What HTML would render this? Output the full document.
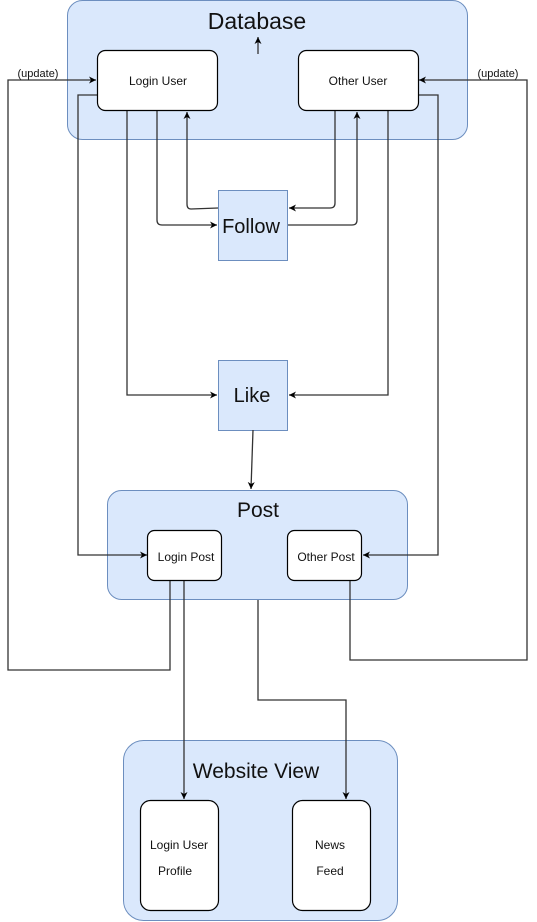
<!DOCTYPE html>
<html><head><meta charset="utf-8"><style>
html,body{margin:0;padding:0;background:#fff;width:537px;height:922px;overflow:hidden}
text{font-family:"Liberation Sans",Arial,sans-serif;fill:#111}
</style></head><body>
<svg width="537" height="922" viewBox="0 0 537 922" xmlns="http://www.w3.org/2000/svg">
<defs>
<marker id="a" markerWidth="8" markerHeight="8" refX="7" refY="4" orient="auto" markerUnits="userSpaceOnUse">
<path d="M0,0.5 L7,4 L0,7.5 L2,4 Z" fill="#000"/>
</marker>
</defs>
<rect x="67.5" y="0.5" width="400" height="139" rx="15" fill="#dae8fc" stroke="#6c8ebf"/>
<rect x="107.5" y="490.5" width="300" height="109" rx="14" fill="#dae8fc" stroke="#6c8ebf"/>
<rect x="123.5" y="740.5" width="274" height="180" rx="20" fill="#dae8fc" stroke="#6c8ebf"/>
<rect x="218.5" y="190.5" width="69" height="70" fill="#dae8fc" stroke="#6c8ebf"/>
<rect x="218.5" y="360.5" width="69" height="70" fill="#dae8fc" stroke="#6c8ebf"/>
<text x="257" y="29" font-size="23" text-anchor="middle">Database</text>
<text x="258" y="517" font-size="21" text-anchor="middle">Post</text>
<text x="256" y="778" font-size="21" text-anchor="middle">Website View</text>
<text x="251" y="233" font-size="20" text-anchor="middle">Follow</text>
<text x="252" y="402" font-size="20" text-anchor="middle">Like</text>
<g fill="none" stroke="#333" stroke-width="1.3">
<path d="M258,54 V37" marker-end="url(#a)"/>
<path d="M170,580 V670 H8 V80 H96" marker-end="url(#a)"/>
<path d="M97,95 H78 V555 H147" marker-end="url(#a)"/>
<path d="M127,110 V395 H217" marker-end="url(#a)"/>
<path d="M157,110 V220 Q157,225 162,225 H217" marker-end="url(#a)"/>
<path d="M218,208 L191,209 Q187,209 187,204 V112" marker-end="url(#a)"/>
<path d="M335,110 V203 Q335,208 330,208 H289" marker-end="url(#a)"/>
<path d="M288,225 H352 Q357,225 357,220 V112" marker-end="url(#a)"/>
<path d="M388,110 V395 H289" marker-end="url(#a)"/>
<path d="M418,95 H438 V555 H363" marker-end="url(#a)"/>
<path d="M350,580 V660 H527 V80 H419" marker-end="url(#a)"/>
<path d="M253,430 L251,489" marker-end="url(#a)"/>
<path d="M184,580 V799" marker-end="url(#a)"/>
<path d="M258,600 V700 H346 V799" marker-end="url(#a)"/>
</g>
<g fill="#fff" stroke="#000" stroke-width="1.2">
<rect x="97.5" y="50.5" width="120" height="60" rx="8"/>
<rect x="298.5" y="50.5" width="120" height="60" rx="8"/>
<rect x="147.5" y="530.5" width="74" height="50" rx="7"/>
<rect x="287.5" y="530.5" width="74" height="50" rx="7"/>
<rect x="140.5" y="800.5" width="78" height="110" rx="10"/>
<rect x="292.5" y="800.5" width="78" height="110" rx="10"/>
</g>
<text x="158" y="85" font-size="12" text-anchor="middle">Login User</text>
<text x="358" y="85" font-size="12" text-anchor="middle">Other User</text>
<text x="186" y="561" font-size="12" text-anchor="middle">Login Post</text>
<text x="326" y="561" font-size="12" text-anchor="middle">Other Post</text>
<text x="179" y="849" font-size="12" text-anchor="middle">Login User</text>
<text x="175" y="875" font-size="12" text-anchor="middle">Profile</text>
<text x="330" y="849" font-size="12" text-anchor="middle">News</text>
<text x="330" y="875" font-size="12" text-anchor="middle">Feed</text>
<text x="38" y="77" font-size="11" text-anchor="middle">(update)</text>
<text x="498" y="77" font-size="11" text-anchor="middle">(update)</text>
</svg>
</body></html>
